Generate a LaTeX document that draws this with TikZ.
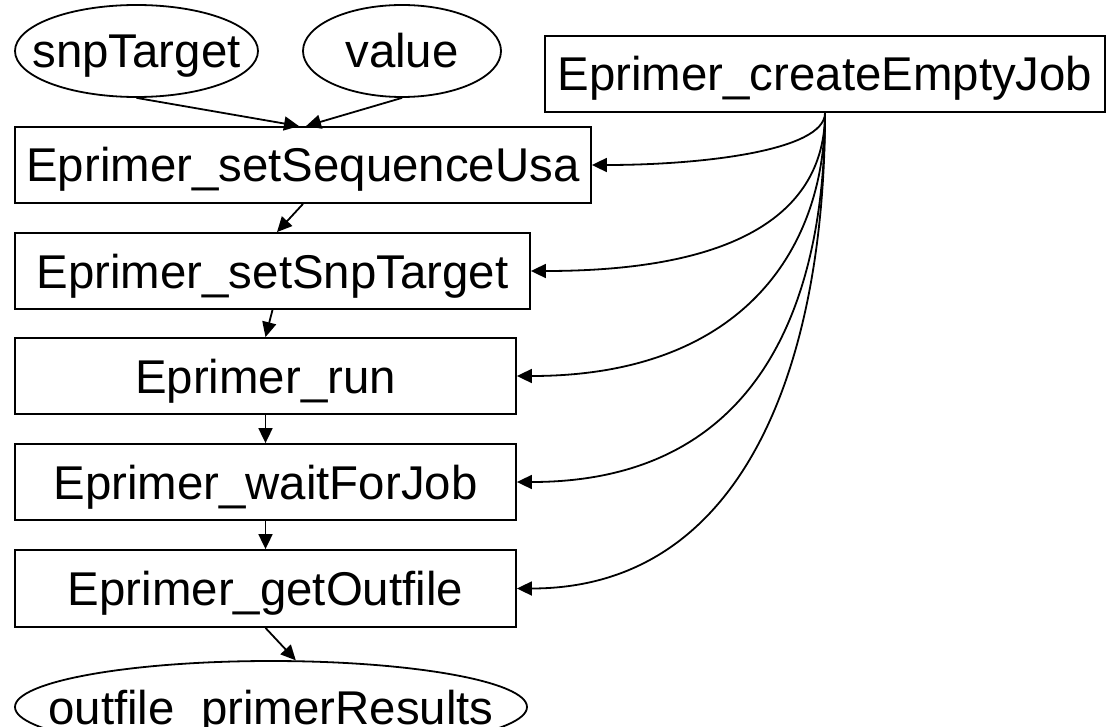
\documentclass[tikz,border=0pt]{standalone}
\usepackage{fontspec}
\setmainfont{Liberation Sans}
\usetikzlibrary{shapes.geometric,arrows.meta}
\begin{document}
\begin{tikzpicture}[x=1pt,y=-1pt,
  lbl/.style={font=\fontsize{47.4}{57}\selectfont, text height=34pt, text depth=0pt},
  box/.style={lbl, draw, rectangle, inner sep=0pt, minimum height=76pt, line width=1.8pt},
  oval/.style={lbl, draw, ellipse, inner sep=0pt, minimum height=92pt, line width=1.8pt},
  link/.style={line width=1.8pt, -{Triangle[length=15pt,width=14pt]}}]
\clip (0,0) rectangle (1107,727);

% inputs
\node[oval, minimum width=243pt] (snpT) at (136.5,51) {\makebox[0pt]{snpTarget}};
\node[oval, minimum width=198pt] (val) at (402,51) {\makebox[0pt]{value}};
\node[box, minimum width=560pt] (create) at (825,74) {Eprimer\_createEmptyJob};

% call chain
\node[box, minimum width=576pt] (seq) at (303,165) {Eprimer\_setSequenceUsa};
\node[box, minimum width=515pt] (snp) at (272.5,271) {Eprimer\_setSnpTarget};
\node[box, minimum width=501pt] (run) at (265.5,376) {Eprimer\_run};
\node[box, minimum width=501pt] (wait) at (265.5,482) {Eprimer\_waitForJob};
\node[box, minimum width=501pt, minimum height=77pt] (get) at (265.5,588.5) {Eprimer\_getOutfile};

% output
\node[oval, minimum width=512pt] (out) at (271,707) {\makebox[0pt]{outfile\_primerResults}};

% data flow
\draw[link] (snpT.south) -- ([xshift=-4pt]seq.north);
\draw[link] (val.south) -- ([xshift=3pt]seq.north);
\draw[link] (seq.south) -- ([xshift=4.5pt]snp.north);
\draw[link] (snp.south) -- (run.north);
\draw[link] (run.south) -- (wait.north);
\draw[link] (wait.south) -- (get.north);
\draw[link] (get.south) -- (out.62);

% job handle fan-out
\draw[link] (create.south) .. controls ([yshift=-38pt]create.south) and ([xshift=109pt]seq.east) .. (seq.east);
\draw[link] (create.south) .. controls ([yshift=-78pt]create.south) and ([xshift=240pt]snp.east) .. (snp.east);
\draw[link] (create.south) .. controls ([yshift=-138pt]create.south) and ([xshift=224pt]run.east) .. (run.east);
\draw[link] (create.south) .. controls ([yshift=-188pt]create.south) and ([xshift=244pt]wait.east) .. (wait.east);
\draw[link] (create.south) .. controls ([yshift=-238pt]create.south) and ([xshift=234pt]get.east) .. (get.east);
\end{tikzpicture}
\end{document}
